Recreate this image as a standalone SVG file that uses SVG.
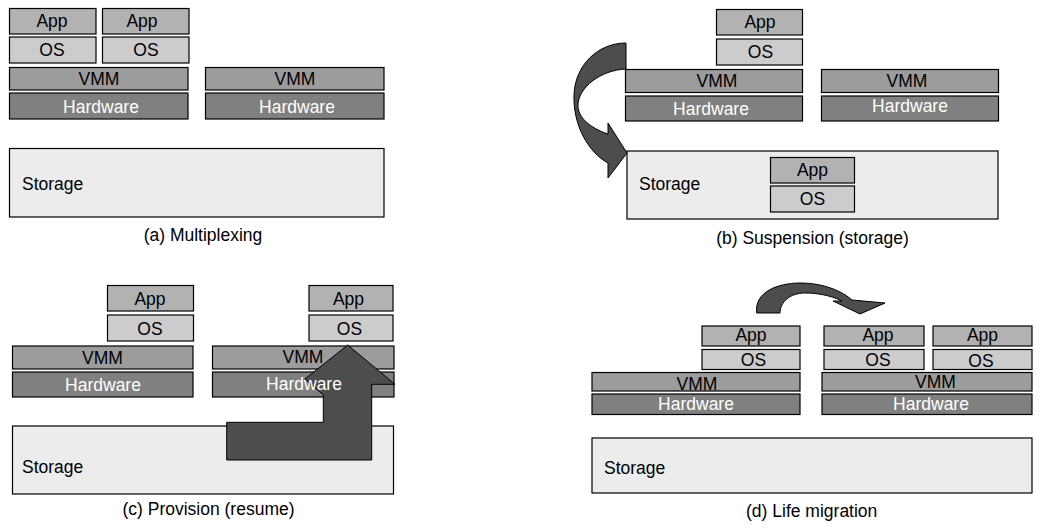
<svg xmlns="http://www.w3.org/2000/svg" width="1045" height="529" viewBox="0 0 1045 529">
<style>
rect{stroke:#000;stroke-width:1.2}
.app{fill:#b2b2b2}
.os{fill:#cccccc}
.vmm{fill:#9c9c9c}
.hw{fill:#808080}
.st{fill:#ececec}
text{font-family:"Liberation Sans",Arial,sans-serif;font-size:17.5px;fill:#000}
.c{text-anchor:middle}
.w{fill:#fff}
.arr{fill:#4d4d4d;stroke:#000;stroke-width:1}
</style>

<!-- Panel (a) -->
<g id="a-storage"><rect class="st" x="9.5" y="148.5" width="374.5" height="68.5"/><text x="22" y="190">Storage</text></g>
<g id="a-app1"><rect class="app" x="9.5" y="8.5" width="86.5" height="25.5"/><text class="c" x="52" y="27">App</text></g>
<g id="a-os1"><rect class="os" x="9.5" y="37" width="86.5" height="26"/><text class="c" x="52" y="56">OS</text></g>
<g id="a-app2"><rect class="app" x="102.5" y="8.5" width="86.5" height="25.5"/><text class="c" x="142" y="27">App</text></g>
<g id="a-os2"><rect class="os" x="102.5" y="37" width="86.5" height="26"/><text class="c" x="146" y="56">OS</text></g>
<g id="a-vmm1"><rect class="vmm" x="9.5" y="67.5" width="178.5" height="22.5"/><text class="c" x="99" y="85">VMM</text></g>
<g id="a-hw1"><rect class="hw" x="9.5" y="93" width="178.5" height="26"/><text class="c w" x="101" y="112.5">Hardware</text></g>
<g id="a-vmm2"><rect class="vmm" x="205.5" y="67.5" width="178.5" height="22.5"/><text class="c" x="295" y="85">VMM</text></g>
<g id="a-hw2"><rect class="hw" x="205.5" y="93" width="178.5" height="26"/><text class="c w" x="297" y="112.5">Hardware</text></g>
<text class="c" x="203" y="241">(a) Multiplexing</text>

<!-- Panel (b) -->
<g id="b-storage"><rect class="st" x="627" y="151" width="371" height="68"/><text x="639" y="190">Storage</text></g>
<g id="b-app-stored"><rect class="app" x="770.5" y="157.5" width="84" height="25.5"/><text class="c" x="812.5" y="176">App</text></g>
<g id="b-os-stored"><rect class="os" x="770.5" y="186" width="84" height="26"/><text class="c" x="812.5" y="205">OS</text></g>
<g id="b-app"><rect class="app" x="716.5" y="9.5" width="86" height="25.5"/><text class="c" x="760" y="28">App</text></g>
<g id="b-os"><rect class="os" x="716.5" y="39" width="86" height="26"/><text class="c" x="760.5" y="58">OS</text></g>
<g id="b-vmm1"><rect class="vmm" x="625.5" y="69.5" width="177" height="23"/><text class="c" x="717" y="87">VMM</text></g>
<g id="b-hw1"><rect class="hw" x="625.5" y="96" width="177" height="25"/><text class="c w" x="711" y="114.5">Hardware</text></g>
<g id="b-vmm2"><rect class="vmm" x="821.5" y="69.5" width="177" height="23"/><text class="c" x="907" y="87">VMM</text></g>
<g id="b-hw2"><rect class="hw" x="821.5" y="96" width="177" height="25"/><text class="c w" x="910" y="112">Hardware</text></g>
<text class="c" x="812.5" y="244">(b) Suspension (storage)</text>

<!-- Panel (c) -->
<g id="c-storage"><rect class="st" x="12.5" y="426" width="381" height="68"/><text x="22" y="473">Storage</text></g>
<g id="c-app1"><rect class="app" x="107.5" y="285.5" width="86" height="25.5"/><text class="c" x="150" y="305">App</text></g>
<g id="c-os1"><rect class="os" x="107.5" y="315" width="86" height="26"/><text class="c" x="150" y="335">OS</text></g>
<g id="c-vmm1"><rect class="vmm" x="12.5" y="346" width="180.5" height="23"/><text class="c" x="102.5" y="363.5">VMM</text></g>
<g id="c-hw1"><rect class="hw" x="12.5" y="372" width="180.5" height="25"/><text class="c w" x="103" y="390.5">Hardware</text></g>
<g id="c-app2"><rect class="app" x="309" y="285.5" width="84" height="25.5"/><text class="c" x="348.5" y="305">App</text></g>
<g id="c-os2"><rect class="os" x="309" y="315" width="84" height="26"/><text class="c" x="349.5" y="335">OS</text></g>
<g id="c-vmm2"><rect class="vmm" x="212.5" y="346" width="181.5" height="23"/><text class="c" x="303" y="363">VMM</text></g>
<g id="c-hw2"><rect class="hw" x="212.5" y="372" width="181.5" height="25"/></g>
<text class="c" x="208.5" y="515">(c) Provision (resume)</text>

<!-- Panel (d) -->
<g id="d-storage"><rect class="st" x="592" y="438" width="440" height="55"/><text x="604" y="473.5">Storage</text></g>
<g id="d-app1"><rect class="app" x="702" y="326" width="98" height="20"/><text class="c" x="751" y="341">App</text></g>
<g id="d-os1"><rect class="os" x="702" y="349.5" width="98" height="20"/><text class="c" x="753.5" y="365.5">OS</text></g>
<g id="d-vmm1"><rect class="vmm" x="592" y="372.5" width="208" height="18.5"/><text class="c" x="697" y="390">VMM</text></g>
<g id="d-hw1"><rect class="hw" x="592" y="394" width="208" height="20.5"/><text class="c w" x="696" y="409.5">Hardware</text></g>
<g id="d-app2"><rect class="app" x="824" y="326" width="100" height="20"/><text class="c" x="878" y="341">App</text></g>
<g id="d-os2"><rect class="os" x="824" y="349.5" width="100" height="20"/><text class="c" x="878" y="365.5">OS</text></g>
<g id="d-app3"><rect class="app" x="933" y="326" width="99" height="20"/><text class="c" x="982.5" y="341">App</text></g>
<g id="d-os3"><rect class="os" x="933" y="349.5" width="99" height="20"/><text class="c" x="981" y="366.5">OS</text></g>
<g id="d-vmm2"><rect class="vmm" x="822" y="372.5" width="210" height="18.5"/><text class="c" x="935.5" y="387.5">VMM</text></g>
<g id="d-hw2"><rect class="hw" x="822" y="394" width="210" height="20.5"/><text class="c w" x="931" y="409.5">Hardware</text></g>
<text class="c" x="811.7" y="517">(d) Life migration</text>

<!-- Connectors -->
<g id="connectors">
<path class="arr" d="M626,43 C598,43 575,65 574,95 C573,125 588,152 608,163 L608,178 L627,153 L608,123 L608,134 C590,128 577,117 578,104 C579,88 600,70 626,69 Z"/>
<path class="arr" d="M347.7,345 L395,384.3 L371.7,384.3 L371.7,460 L226.7,460 L226.7,422.3 L323.3,422.3 L323.3,395 L305,379 Z"/>
<path class="arr" stroke-width="0.6" d="M756.7,313 C754,292 778,283 800,283 C825,283 843,292 852,300 L885,303 L860,314 L833,301 L842,301 C830,295 816,293 805,293 C790,293 780,302 780,313 Z"/>
</g>
<g id="c-hw2-label"><text class="c w" x="304" y="389.5">Hardware</text></g>
</svg>
